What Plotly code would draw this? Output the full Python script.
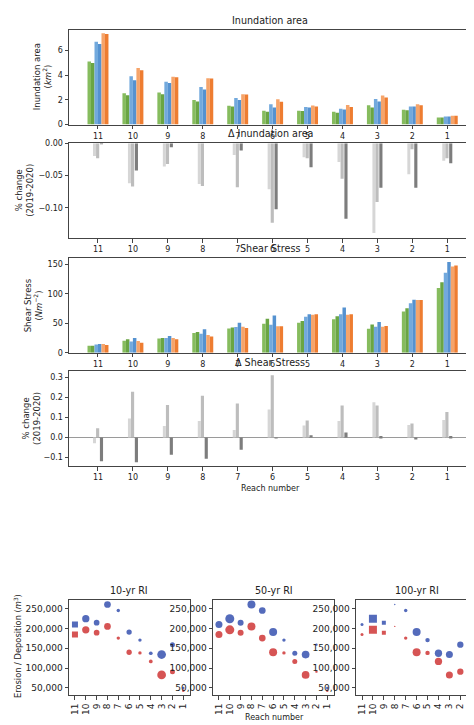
import plotly.graph_objects as go

# --- Data (reach 11 -> 1) ---
reaches = [11, 10, 9, 8, 7, 6, 5, 4, 3, 2, 1]

# Inundation area (km^2): 2019 / 2020 for each return interval
inund_10_2019 = [5.10, 2.52, 2.58, 1.99, 1.51, 1.12, 1.12, 1.04, 1.57, 1.20, 0.58]
inund_10_2020 = [4.97, 2.36, 2.44, 1.86, 1.46, 1.04, 1.10, 0.95, 1.38, 1.15, 0.57]
inund_50_2019 = [6.69, 3.90, 3.45, 3.03, 2.15, 1.65, 1.41, 1.27, 2.07, 1.46, 0.66]
inund_50_2020 = [6.50, 3.58, 3.35, 2.84, 1.99, 1.38, 1.38, 1.22, 1.86, 1.46, 0.66]
inund_100_2019 = [7.36, 4.57, 3.85, 3.74, 2.44, 2.05, 1.54, 1.59, 2.34, 1.65, 0.72]
inund_100_2020 = [7.30, 4.38, 3.82, 3.72, 2.42, 1.85, 1.46, 1.41, 2.18, 1.57, 0.72]

# change in inundation area (2019-2020)
d_inund_10 = [-0.0195, -0.062, -0.036, -0.063, -0.018, -0.071, -0.0215, -0.029, -0.139, -0.048, -0.027]
d_inund_50 = [-0.023, -0.067, -0.032, -0.066, -0.068, -0.123, -0.023, -0.055, -0.091, -0.009, -0.023]
d_inund_100 = [-0.001, -0.042, -0.006, 0.0, -0.011, -0.102, -0.037, -0.117, -0.069, -0.069, -0.031]

# Shear stress (N m^-2)
shear_10_2019 = [12, 20.5, 24, 33.6, 41, 49, 51, 57, 40.5, 70, 110]
shear_10_2020 = [12, 23, 25, 35.3, 43, 57.6, 53.7, 62, 48, 75.5, 119.5]
shear_50_2019 = [14, 19, 25, 32, 43.7, 47.6, 61, 65.5, 44, 84, 136]
shear_50_2020 = [15, 25, 28.6, 39.8, 51, 63.2, 65.5, 76.7, 52, 90, 154]
shear_100_2019 = [15, 20, 25, 30.3, 44, 45, 64.4, 64.4, 44, 89.5, 146.5]
shear_100_2020 = [13, 16.8, 23, 27.4, 42, 45, 65.5, 65.5, 45.3, 89.5, 148]

# change in shear stress (2019-2020)
d_shear_10 = [-0.028, 0.096, 0.058, 0.083, 0.038, 0.141, 0.060, 0.083, 0.177, 0.063, 0.088]
d_shear_50 = [0.046, 0.229, 0.163, 0.209, 0.171, 0.312, 0.085, 0.161, 0.161, 0.071, 0.128]
d_shear_100 = [-0.119, -0.124, -0.086, -0.106, -0.061, -0.003, 0.012, 0.025, 0.008, -0.005, 0.008]

# Erosion / deposition volumes (m^3) and bubble sizes per RI
erosion = [210000, 225000, 215000, 261000, 245800, 191000, 170800, 137500, 134200, 159200, 49500]
deposition = [185000, 196700, 189500, 205500, 175800, 140000, 138300, 116700, 82500, 90800, 42500]
size_10yr = [6, 7.3, 5.7, 6.7, 3.4, 5.3, 3.4, 3.7, 8.7, 5, 2.5]
size_50yr = [7, 9, 6, 8, 6.7, 8, 3.4, 5, 7.7, 2.4, 2.4]
size_100yr = [3, 8, 4, 1.4, 3.4, 8, 4.4, 7.3, 7, 6.3, 2.7]
square_10yr = [11]
square_50yr = []
square_100yr = [10, 9]

# --- Style ---
W, H = 474, 725
FONT = "DejaVu Sans"
TXT = "#222222"
AX = "#444444"
idx = list(range(len(reaches)))

def px(x):
    return x / W

def py(y):
    return 1 - y / H

fig = go.Figure()

# --- Bar panels ---
pair_colors = ["#86bc5e", "#6aa544", "#72a9dd", "#5592d0", "#f6a46a", "#ee7d31"]
bar_w = 0.1
offsets = [-2.5, -1.5, -0.5, 0.5, 1.5, 2.5]

def add_pairs(series, names, ax):
    for k, (vals, nm) in enumerate(zip(series, names)):
        fig.add_trace(go.Bar(
            x=[i + offsets[k] * bar_w for i in idx], y=vals, width=bar_w,
            marker=dict(color=pair_colors[k], line_width=0),
            name=nm, xaxis="x" + ax, yaxis="y" + ax, showlegend=False
        ))

names6 = ["10-yr RI 2019", "10-yr RI 2020", "50-yr RI 2019", "50-yr RI 2020",
          "100-yr RI 2019", "100-yr RI 2020"]
add_pairs([inund_10_2019, inund_10_2020, inund_50_2019, inund_50_2020,
           inund_100_2019, inund_100_2020], names6, "")
add_pairs([shear_10_2019, shear_10_2020, shear_50_2019, shear_50_2020,
           shear_100_2019, shear_100_2020], names6, "3")

gray_colors = ["#d6d6d6", "#bdbdbd", "#7d7d7d"]
gray_off = [-0.1, -0.01, 0.1]
gray_w = [0.085, 0.09, 0.09]

def add_deltas(series, ax):
    for k, (vals, nm) in enumerate(zip(series, ["10-yr RI", "50-yr RI", "100-yr RI"])):
        fig.add_trace(go.Bar(
            x=[i + gray_off[k] for i in idx], y=vals, width=gray_w[k],
            marker=dict(color=gray_colors[k], line_width=0),
            name=nm, xaxis="x" + ax, yaxis="y" + ax, showlegend=False
        ))

add_deltas([d_inund_10, d_inund_50, d_inund_100], "2")
add_deltas([d_shear_10, d_shear_50, d_shear_100], "4")

# --- Bubble panels ---
blue, red = "#0b2c9e", "#c40b0b"
for ax, sizes, squares in [("5", size_10yr, square_10yr), ("6", size_50yr, square_50yr),
                           ("7", size_100yr, square_100yr)]:
    symbols = ["square" if r in squares else "circle" for r in reaches]
    fig.add_trace(go.Scatter(x=idx, y=erosion, mode="markers", name="Erosion",
                             marker=dict(size=sizes, symbol=symbols, color=blue, line_width=0),
                             xaxis="x" + ax, yaxis="y" + ax, showlegend=False))
    fig.add_trace(go.Scatter(x=idx, y=deposition, mode="markers", name="Deposition",
                             marker=dict(size=sizes, symbol=symbols, color=red, line_width=0),
                             xaxis="x" + ax, yaxis="y" + ax, showlegend=False))

# --- Axes ---
def axis_style(size=8):
    return dict(showline=True, mirror=True, linecolor=AX, linewidth=1,
                ticks="outside", ticklen=3.5, tickcolor=AX, tickwidth=1,
                showgrid=False, zeroline=False,
                tickfont=dict(family=FONT, size=size, color=TXT))

bar_panels = [(18, 114), (133, 229), (249, 345), (364, 460)]
bar_ranges = [[0, 7.65], [-0.147, 0.0], [0, 161], [-0.144, 0.331]]
bar_ticks = [[0, 2, 4, 6], [-0.10, -0.05, 0.0], [0, 50, 100, 150], [-0.1, 0.0, 0.1, 0.2, 0.3]]
bar_fmt = ["d", ".2f", "d", ".1f"]

layout = {}
for n, ((top, bot), rng, tv, fmt) in enumerate(zip(bar_panels, bar_ranges, bar_ticks, bar_fmt), 1):
    s = "" if n == 1 else str(n)
    layout["xaxis" + s] = dict(axis_style(), domain=[px(61), px(463)], anchor="y" + s,
                               range=[-0.83, 10.68], tickvals=idx,
                               ticktext=[str(r) for r in reaches])
    layout["yaxis" + s] = dict(axis_style(), domain=[py(bot), py(top)], anchor="x" + s,
                               range=rng, tickvals=tv, tickformat=fmt)
layout["yaxis4"].update(zeroline=True, zerolinecolor="#9a9a9a", zerolinewidth=1)

bub_x = [(61, 182), (205, 326), (348, 470)]
for n, (l, r) in zip([5, 6, 7], bub_x):
    s = str(n)
    layout["xaxis" + s] = dict(axis_style(9), domain=[px(l), px(r)], anchor="y" + s,
                               range=[-0.55, 10.62], tickvals=idx, tickangle=-90,
                               ticktext=[str(v) for v in reaches])
    layout["yaxis" + s] = dict(axis_style(9), domain=[py(692), py(595)], anchor="x" + s,
                               range=[30600, 273400], tickvals=[50000, 100000, 150000, 200000, 250000],
                               tickformat=",d")

# --- Text ---
ann = []

def text(x, y, t, size, angle=0, yanchor="middle"):
    ann.append(dict(x=px(x), y=py(y), xref="paper", yref="paper", text=t, showarrow=False,
                    textangle=angle, xanchor="center", yanchor=yanchor,
                    font=dict(family=FONT, size=size, color=TXT)))

text(262, 16, "Inundation area", 9.6, yanchor="bottom")
text(262, 131, "Δ Inundation area", 9.6, yanchor="bottom")
text(262, 247, "Shear Stress", 9.6, yanchor="bottom")
text(262, 362, "Δ Shear Stress", 9.6, yanchor="bottom")
text(262, 482, "Reach number", 8)

text(34, 66, "Inundation area<br>(<i>km</i><sup>2</sup>)", 8.5, -90)
text(17, 181, "% change<br>(2019-2020)", 8.5, -90)
text(25, 297, "Shear Stress<br>(<i>Nm</i><sup>−2</sup>)", 8.5, -90)
text(24, 412, "% change<br>(2019-2020)", 8.5, -90)

text(121, 593, "10-yr RI", 9.6, yanchor="bottom")
text(266, 593, "50-yr RI", 9.6, yanchor="bottom")
text(409, 593, "100-yr RI", 9.6, yanchor="bottom")
text(10, 642, "Erosion / Deposition (<i>m</i><sup>3</sup>)", 8.3, -90)
text(266, 714, "Reach number", 8)

fig.update_layout(
    **layout,
    annotations=ann,
    barmode="overlay",
    width=W, height=H,
    margin=dict(l=0, r=0, t=0, b=0),
    paper_bgcolor="white", plot_bgcolor="white",
    font=dict(family=FONT, color=TXT),
    showlegend=False,
)

fig.write_html("out.html")
